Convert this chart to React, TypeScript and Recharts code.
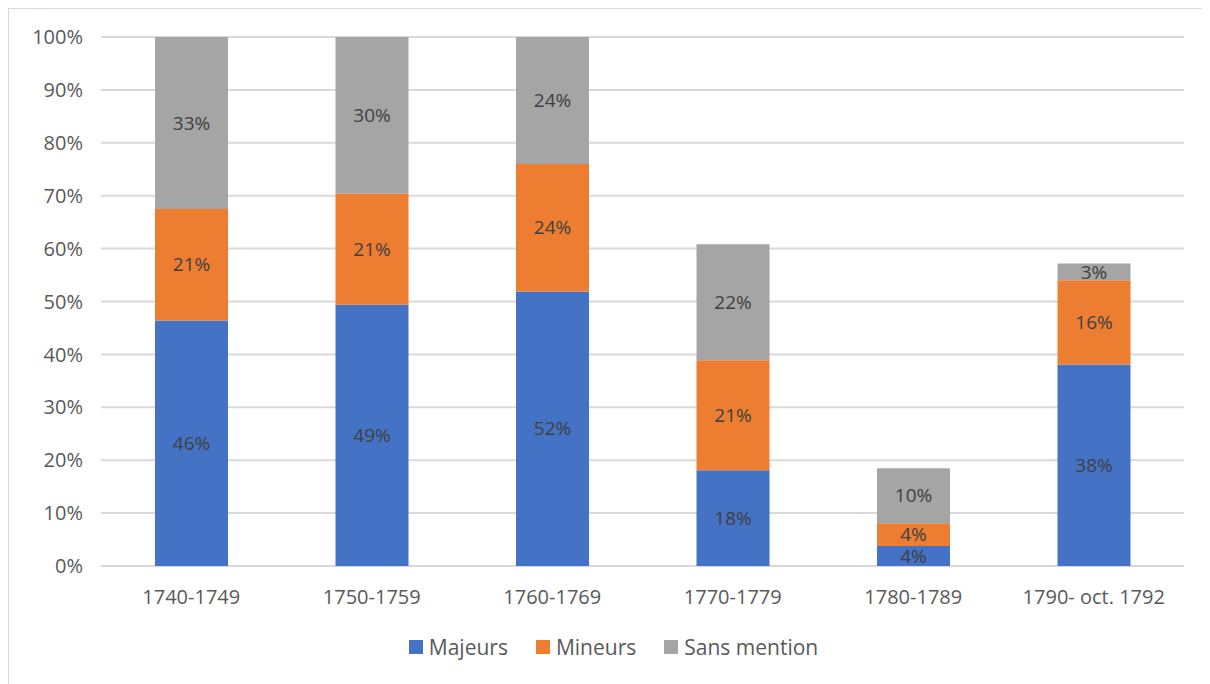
import { BarChart, Bar, XAxis, YAxis, CartesianGrid, Legend, LabelList } from 'recharts';

// Répartition par période (en % du total)
const periods = ['1740-1749', '1750-1759', '1760-1769', '1770-1779', '1780-1789', '1790- oct. 1792'];
const majeurs = [46.4, 49.4, 51.9, 18.1, 3.8, 38.1];
const mineurs = [21.1, 21.0, 24.1, 20.8, 4.3, 15.9];
const sansMention = [32.5, 29.6, 24.0, 21.9, 10.4, 3.2];
const yTicks = [0, 10, 20, 30, 40, 50, 60, 70, 80, 90, 100];

const series = [
  { key: 'majeurs', name: 'Majeurs', color: '#4472C4' },
  { key: 'mineurs', name: 'Mineurs', color: '#ED7D31' },
  { key: 'sansMention', name: 'Sans mention', color: '#A5A5A5' },
];

const chartData = periods.map((p, i) => ({
  period: p,
  majeurs: majeurs[i],
  mineurs: mineurs[i],
  sansMention: sansMention[i],
}));

const FONT = '"Open Sans", "Noto Sans", sans-serif';

const renderLegend = () => (
  <div style={{ display: 'flex', justifyContent: 'center', fontFamily: FONT, fontSize: 21, color: '#595959', paddingLeft: 8 }}>
    {series.map(s => (
      <div key={s.key} style={{ display: 'flex', alignItems: 'center', margin: '0 14px' }}>
        <span style={{ display: 'inline-block', width: 14, height: 14, background: s.color, marginRight: 6 }} />
        <span>{s.name}</span>
      </div>
    ))}
  </div>
);

export default function App() {
  return (
    <div style={{ width: 1201, height: 676, borderTop: '1px solid #d9d9d9', borderLeft: '1px solid #d9d9d9', background: '#fff' }}>
      <BarChart
        width={1201}
        height={675}
        data={chartData}
        margin={{ top: 28, right: 26, left: 0, bottom: 0 }}
      >
        <CartesianGrid vertical={false} stroke="#d9d9d9" strokeWidth={2} />
        <XAxis
          dataKey="period"
          axisLine={false}
          tickLine={false}
          height={90}
          tickMargin={18}
          tick={{ fontSize: 20, fill: '#595959', fontFamily: FONT }}
        />
        <YAxis
          domain={[0, 100]}
          ticks={yTicks}
          tickFormatter={(v: number) => `${v}%`}
          axisLine={false}
          tickLine={false}
          width={92}
          tickMargin={12}
          tick={{ fontSize: 20, fill: '#595959', fontFamily: FONT }}
        />
        <Legend content={renderLegend} wrapperStyle={{ top: 624, bottom: 'auto', left: 0, width: 1201 }} />
        {series.map(s => (
          <Bar key={s.key} dataKey={s.key} name={s.name} stackId="a" fill={s.color} barSize={73} isAnimationActive={false}>
            <LabelList
              dataKey={s.key}
              position="center"
              formatter={(v: number) => `${Math.round(v)}%`}
              style={{ fontSize: 19, fill: '#404040', fontFamily: FONT }}
            />
          </Bar>
        ))}
      </BarChart>
    </div>
  );
}
